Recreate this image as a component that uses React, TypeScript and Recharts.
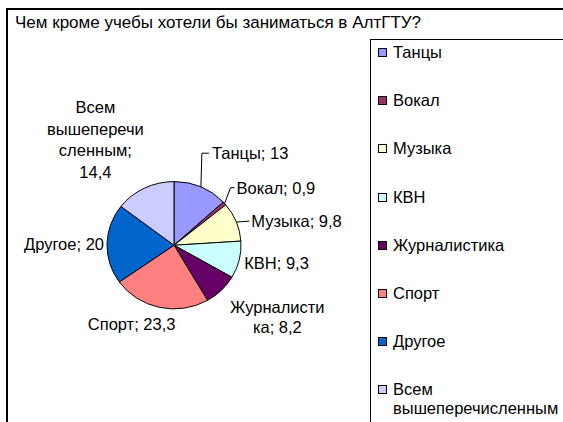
import React from 'react';
import { PieChart, Pie, Cell, Legend } from 'recharts';

const TITLE = 'Чем кроме учебы хотели бы заниматься в АлтГТУ?';
const CATEGORIES = ['Танцы', 'Вокал', 'Музыка', 'КВН', 'Журналистика', 'Спорт', 'Другое', 'Всем вышеперечисленным'];
const VALUES = [13, 0.9, 9.8, 9.3, 8.2, 23.3, 20, 14.4];
const LABEL_LINES = [
  ['Танцы; 13'],
  ['Вокал; 0,9'],
  ['Музыка; 9,8'],
  ['КВН; 9,3'],
  ['Журналисти', 'ка; 8,2'],
  ['Спорт; 23,3'],
  ['Другое; 20'],
  ['Всем', 'вышеперечи', 'сленным;', '14,4'],
];
const LEGEND_LINES = [
  ['Танцы'],
  ['Вокал'],
  ['Музыка'],
  ['КВН'],
  ['Журналистика'],
  ['Спорт'],
  ['Другое'],
  ['Всем', 'вышеперечисленным'],
];
const COLORS = ['#9999FF', '#993366', '#FFFFCC', '#CCFFFF', '#660066', '#FF8080', '#0066CC', '#CCCCFF'];

// label placement relative to the slice's outer edge point (styling only)
const LABEL_LAYOUT = [
  { dx: 11, dy: -34, anchor: 'start', leader: 'elbowUp', lh: 21 },
  { dx: 12, dy: -16, anchor: 'start', leader: 'elbow', lh: 21 },
  { dx: 15, dy: -1, anchor: 'start', leader: 'line', lh: 21 },
  { dx: 5, dy: 3, anchor: 'start', leader: 'none', lh: 21 },
  { dx: 56, dy: 26, anchor: 'middle', leader: 'none', lh: 20 },
  { dx: -28, dy: 16, anchor: 'middle', leader: 'none', lh: 21 },
  { dx: -3, dy: 0, anchor: 'end', leader: 'none', lh: 21 },
  { dx: -49, dy: -49, anchor: 'middle', leader: 'none', lh: 21.7 },
];

const FONT = '"Liberation Sans", Arial, sans-serif';
const FS = 16.5;
const TITLE_FS = 17;
const CX = 169;
const CY = 240.5;
const R = 67;
const SY = 0.95;

const data = CATEGORIES.map((name, i) => ({ name, value: VALUES[i] }));

const RAD = Math.PI / 180;

const renderLabel = (props: any) => {
  const { cx, cy, midAngle, outerRadius, index } = props;
  const ex = cx + outerRadius * Math.cos(-midAngle * RAD);
  const ey = cy + outerRadius * Math.sin(-midAngle * RAD) * SY;
  const lay = LABEL_LAYOUT[index];
  const lines = LABEL_LINES[index];
  const tx = ex + lay.dx;
  const ty = ey + lay.dy;
  const startY = ty - ((lines.length - 1) * lay.lh) / 2;
  let path = '';
  if (lay.leader === 'elbowUp') {
    path = `M${ex},${ey} L${ex + 1},${ty} L${tx - 3},${ty}`;
  } else if (lay.leader === 'elbow') {
    path = `M${ex},${ey} L${tx - 6},${ty} L${tx - 2},${ty}`;
  } else if (lay.leader === 'line') {
    path = `M${ex},${ey} L${tx - 2},${ty}`;
  }
  return (
    <g key={`lbl-${index}`}>
      {path && <path d={path} stroke="#000" strokeWidth={1} fill="none" />}
      <text
        x={tx}
        y={startY}
        textAnchor={lay.anchor as any}
        dominantBaseline="central"
        fontFamily={FONT}
        fontSize={FS}
        fill="#000"
      >
        {lines.map((ln, k) => (
          <tspan key={k} x={tx} y={startY + k * lay.lh}>
            {ln}
          </tspan>
        ))}
      </text>
    </g>
  );
};

const LegendContent = () => (
  <div
    style={{
      position: 'relative',
      width: 240,
      height: 420,
      border: '1px solid #000',
      background: '#fff',
      boxSizing: 'border-box',
      fontFamily: FONT,
      fontSize: FS,
    }}
  >
    {LEGEND_LINES.map((lines, i) => (
      <div
        key={i}
        style={{ position: 'absolute', left: 7, top: 12 + i * 48.2 - 9, display: 'flex', alignItems: 'flex-start' }}
      >
        <div
          style={{
            width: 9,
            height: 9,
            marginTop: 5,
            border: '1px solid #000',
            background: COLORS[i],
            boxSizing: 'border-box',
            marginRight: 6,
          }}
        />
        <div style={{ lineHeight: '18.5px', whiteSpace: 'nowrap' }}>
          {lines.map((ln, k) => (
            <div key={k}>{ln}</div>
          ))}
        </div>
      </div>
    ))}
  </div>
);

export default function App() {
  return (
    <div
      style={{
        position: 'absolute',
        left: 0,
        top: 0,
        width: 563,
        height: 422,
        overflow: 'hidden',
        background: '#fff',
      }}
    >
      <style>{`
        .recharts-pie-sector {
          transform-box: view-box;
          transform-origin: ${CX}px ${CY}px;
          transform: scaleY(${SY});
        }
      `}</style>
      <div
        style={{
          position: 'absolute',
          left: 6,
          top: 8,
          width: 620,
          height: 460,
          border: '2px solid #000',
          boxSizing: 'border-box',
        }}
      />
      <div
        style={{
          position: 'absolute',
          left: 15,
          top: 12,
          lineHeight: '21px',
          fontFamily: FONT,
          fontSize: TITLE_FS,
          whiteSpace: 'nowrap',
          color: '#000',
        }}
      >
        {TITLE}
      </div>
      <div style={{ position: 'absolute', left: 0, top: 0 }}>
        <PieChart width={563} height={422}>
          <Pie
            data={data}
            dataKey="value"
            nameKey="name"
            cx={CX}
            cy={CY}
            outerRadius={R}
            startAngle={90}
            endAngle={-270}
            stroke="#000"
            strokeWidth={1}
            label={renderLabel}
            labelLine={false}
            isAnimationActive={false}
          >
            {data.map((d, i) => (
              <Cell key={d.name} fill={COLORS[i]} />
            ))}
          </Pie>
          <Legend
            content={() => <LegendContent />}
            wrapperStyle={{ position: 'absolute', left: 370, top: 39, width: 240, height: 420 }}
          />
        </PieChart>
      </div>
    </div>
  );
}
